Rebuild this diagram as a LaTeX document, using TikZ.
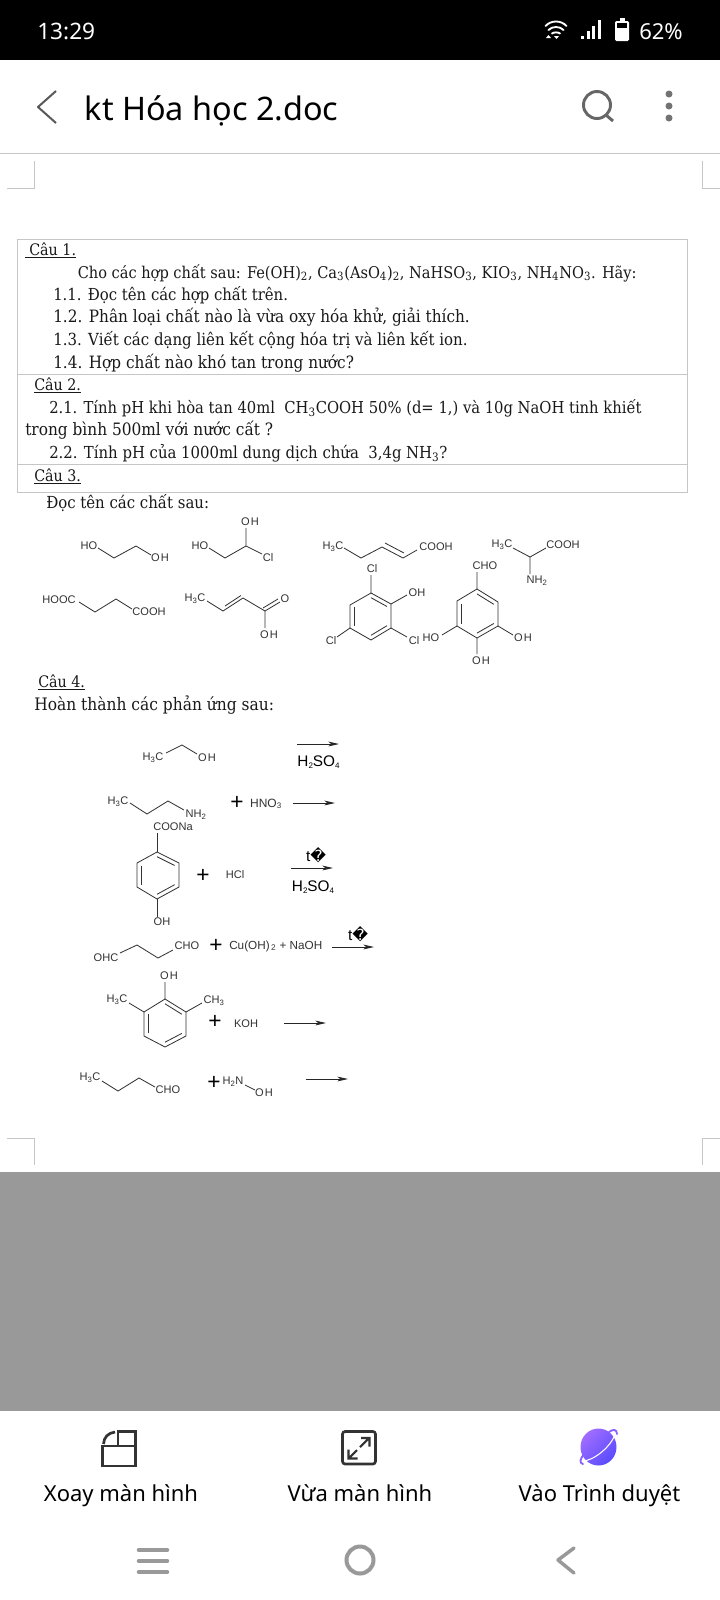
\documentclass[tikz,border=0pt]{standalone}
\usepackage{fontspec}
\usetikzlibrary{arrows.meta,calc}
\setmainfont{DejaVu Serif Condensed}
\newfontfamily\uifont{Noto Sans}
\newfontfamily\chemfont{Liberation Sans}
\newfontfamily\djv{DejaVu Sans}
\newcommand{\ssb}[1]{\textsubscript{#1}}
\newcommand{\oh}{O\kern0.8pt H}
\newcommand{\hso}{H\raisebox{-1.2pt}{\fontsize{6}{6}\selectfont 2}SO\raisebox{-1.2pt}{\fontsize{6}{6}\selectfont 4}}
\definecolor{rulegray}{HTML}{C6C6C6}
\definecolor{bondc}{HTML}{333333}
\definecolor{iconc}{HTML}{333333}
\definecolor{navc}{HTML}{999999}
\definecolor{panel}{HTML}{999999}
\definecolor{planetA}{HTML}{A06CFF}
\definecolor{planetB}{HTML}{5A4CFF}
\tikzset{
  x=0.75pt,y=-0.75pt,
  doc/.style={anchor=base west,inner sep=0pt,font=\fontsize{#1}{15}\selectfont,text=black!90},
  chem/.style={inner sep=0pt,font=\chemfont\fontsize{8.3}{9}\selectfont,text=bondc},
  reag/.style={inner sep=0pt,font=\chemfont\fontsize{11.5}{12}\selectfont,text=black},
  plussign/.style={inner sep=0pt,font=\chemfont\fontsize{17}{17}\selectfont,text=black},
  bond/.style={draw=bondc,line width=0.62pt},
  rxn/.style={draw=black!85,line width=0.62pt,-{Stealth[length=8pt,width=3.6pt,inset=2.2pt]}},
  uilabel/.style={inner sep=0pt,anchor=base,font=\uifont\fontsize{16.5}{20}\selectfont,text=black},
  corner/.style={draw=rulegray,line width=0.6pt},
  tablerule/.style={draw=rulegray,line width=0.75pt},
}
\newcommand{\hexa}[7]{% name, then six vertices clockwise from top
  \coordinate (#1a) at #2; \coordinate (#1b) at #3; \coordinate (#1c) at #4;
  \coordinate (#1d) at #5; \coordinate (#1e) at #6; \coordinate (#1f) at #7;
  \coordinate (#1o) at ($(#1a)!0.5!(#1d)$);
  \draw[bond,line join=round] (#1a)--(#1b)--(#1c)--(#1d)--(#1e)--(#1f)--cycle;
  \draw[bond] ($(#1a)!0.2!(#1o)$)--($(#1b)!0.2!(#1o)$);
  \draw[bond] ($(#1c)!0.2!(#1o)$)--($(#1d)!0.2!(#1o)$);
  \draw[bond] ($(#1e)!0.2!(#1o)$)--($(#1f)!0.2!(#1o)$);
}
\begin{document}
\begin{tikzpicture}
\useasboundingbox (0,0) rectangle (720,1600);
\fill[white] (0,0) rectangle (720,1600);
% status bar
\fill[black] (0,0) rectangle (720,60);
\node[inner sep=0pt,anchor=west,text=white,font=\uifont\fontsize{17}{20}\selectfont] (clock) at (37,31.5) {13:29};
\node[inner sep=0pt,anchor=east,text=white,font=\uifont\fontsize{16.5}{20}\selectfont] (pct) at (683,31.5) {62\%};
\draw[white,line width=1.4pt,line cap=round] (545.5,26) .. controls (551,20) and (561,20) .. (566.5,26);
\draw[white,line width=1.4pt,line cap=round] (548.5,30) .. controls (552,26) and (560,26) .. (563.5,30);
\draw[white,line width=1.4pt,line cap=round] (552,33.5) .. controls (554,32) and (558,32) .. (560,33.5);
\fill[white] (546,38) -- (551,38) -- (548.5,35) -- cycle;
\fill[white] (554,36) -- (559,36) -- (556.5,39) -- cycle;
\fill[white] (581,36) rectangle (584,39);
\fill[white] (587,31) rectangle (590,39);
\fill[white] (592,26) rectangle (595,39);
\fill[white] (598,20) rectangle (601,39);
\fill[white,rounded corners=1pt] (615,21) rectangle (629,41);
\fill[white] (619.5,18) rectangle (624.5,21);
\fill[black] (617,23) rectangle (627,28);
% title bar
\draw[black!65,line width=1.5pt,line join=round] (56,91) -- (38,107) -- (56,123);
\node[inner sep=0pt,anchor=base west,font=\uifont\fontsize{24.3}{28}\selectfont] (title) at (84.5,120) {kt Hóa học 2.doc};
\draw[black!60,line width=2.2pt] (597,105) circle (13.5);
\draw[black!60,line width=2.2pt] (606,115) -- (613,121);
\fill[black!55] (669,94) circle (3.5) (669,106) circle (3.5) (669,118) circle (3.5);
\draw[rulegray,line width=0.9pt] (0,153.5) -- (720,153.5);
% page corners
\draw[corner] (7,188) -- (34.5,188) -- (34.5,161);
\draw[corner] (720,188) -- (702.5,188) -- (702.5,161);
\draw[corner] (7,1138) -- (34.5,1138) -- (34.5,1165);
\draw[corner] (720,1138) -- (702.5,1138) -- (702.5,1165);
% table
\draw[tablerule] (17.5,239.5) rectangle (687.5,492);
\draw[tablerule] (17.5,374) -- (687.5,374);
\draw[tablerule] (17.5,464) -- (687.5,464);
% text
\node[doc=11.9] (c1) at (24.5,255) {\underline{\ Câu 1.}};
\node[doc=12.15] (c1i) at (77.5,278) {Cho các hợp chất sau: Fe(OH)\ssb{2}, Ca\ssb{3}(AsO\ssb{4})\ssb{2}, NaHSO\ssb{3}, KIO\ssb{3}, NH\ssb{4}NO\ssb{3}. Hãy:};
\node[doc=12.4] (q11) at (53,300) {1.1. Đọc tên các hợp chất trên.};
\node[doc=12.75] (q12) at (53,322.5) {1.2. Phân loại chất nào là vừa oxy hóa khử, giải thích.};
\node[doc=12.5] (q13) at (53,345) {1.3. Viết các dạng liên kết cộng hóa trị và liên kết ion.};
\node[doc=12.75] (q14) at (53,368) {1.4. Hợp chất nào khó tan trong nước?};
\node[doc=11.9] (c2) at (34,390) {\underline{Câu 2.}};
\node[doc=12.3] (q21) at (49,413) {2.1. Tính pH khi hòa tan 40ml\ \ CH\ssb{3}COOH 50\% (d= 1,) và 10g NaOH tinh khiết};
\node[doc=12.8] (q21b) at (25,435) {trong bình 500ml với nước cất ?};
\node[doc=12.4] (q22) at (49,458) {2.2. Tính pH của 1000ml dung dịch chứa\ \ 3,4g NH\ssb{3}?};
\node[doc=11.9] (c3) at (34,481) {\underline{Câu 3.}};
\node[doc=12.45] (doc3) at (46,508) {Đọc tên các chất sau:};
\node[doc=11.9] (c4) at (38,687) {\underline{Câu 4.}};
\node[doc=12.9] (doc4) at (34,710) {Hoàn thành các phản ứng sau:};
% ethylene glycol
\node[chem] (a1) at (89,546) {HO}; \node[chem] (a2) at (160,558) {\oh};
\draw[bond,line join=round] (98,548) -- (114,558) -- (136,546) -- (151,555);
% chloro diol
\node[chem] (b1) at (200,546) {HO}; \node[chem] (b2) at (250,522) {\oh}; \node[chem] (b3) at (268,558) {Cl};
\draw[bond,line join=round] (209,548) -- (225,558) -- (246,546) -- (246,528) (246,546) -- (262,554);
% pentenoic acid
\node[chem] (p1) at (333,547) {H\ssb{3}C}; \node[chem] (p2) at (436,547) {COOH};
\draw[bond,line join=round] (344,548) -- (361,558) -- (382,547) -- (403,558) -- (417,550);
\draw[bond] (385,543) -- (404,553);
% alanine
\node[chem] (l1) at (502,545) {H\ssb{3}C}; \node[chem] (l2) at (563,545) {COOH}; \node[chem] (l3) at (537,581) {NH\ssb{2}};
\draw[bond,line join=round] (513,548) -- (530,557) -- (546,548) (530,557) -- (530,574);
% succinic acid
\node[chem] (s1) at (59,600) {HOOC}; \node[chem] (s2) at (149,612) {COOH};
\draw[bond,line join=round] (79,602) -- (95,612) -- (116,599) -- (132,609);
% crotonic acid
\node[chem] (t1) at (195,599) {H\ssb{3}C}; \node[chem] (t2) at (285,599) {O}; \node[chem] (t3) at (269,635) {\oh};
\draw[bond,line join=round] (207,601) -- (223,611) -- (243,598) -- (265,611) -- (265,628);
\draw[bond] (225,606) -- (241,595.5);
\draw[bond] (265,611) -- (280,602) (263,608) -- (278,599);
% trichlorophenol
\hexa{r}{(371,593)}{(391,604)}{(391,628)}{(371,640)}{(350,628)}{(350,605)}
\node[chem] (r1) at (372,569) {Cl}; \node[chem] (r2) at (417,593) {OH}; \node[chem] (r3) at (414,641) {Cl}; \node[chem] (r4) at (331,641) {Cl};
\draw[bond] (ra) -- (371,575) (rb) -- (407,595) (rc) -- (407,637) (re) -- (337,637);
% gallaldehyde
\hexa{g}{(477,589)}{(498,602)}{(498,626)}{(477,638)}{(457,626)}{(457,601)}
\node[chem] (g1) at (485,566) {CHO}; \node[chem] (g2) at (431,638) {HO}; \node[chem] (g3) at (523,638) {\oh}; \node[chem] (g4) at (481,661) {\oh};
\draw[bond] (ga) -- (477,572) (ge) -- (442,635) (gc) -- (513,635) (gd) -- (477,654);
% reaction 1
\node[chem] (e1) at (153,758) {H\ssb{3}C}; \node[chem] (e2) at (207,758) {\oh};
\draw[bond,line join=round] (166,753) -- (182,745) -- (197,754);
\coordinate (ar1a) at (297,744); \coordinate (ar1b) at (339,744);
\draw[rxn] (ar1a) -- (ar1b);
\node[reag] (h1) at (318.5,762) {\hso};
% reaction 2
\node[chem] (m1) at (118,802) {H\ssb{3}C}; \node[chem] (m2) at (196,815) {NH\ssb{2}};
\draw[bond,line join=round] (130,803) -- (147,814) -- (168,801) -- (184,810);
\node[plussign] (pl2) at (237,803) {+};
\node[chem,font=\chemfont\fontsize{9}{9}\selectfont] (hn) at (266,804) {HNO\ssb{3}};
\coordinate (ar2a) at (293,803); \coordinate (ar2b) at (335,803);
\draw[rxn] (ar2a) -- (ar2b);
% reaction 3
\hexa{n}{(157,852)}{(179,863)}{(179,887)}{(157,899)}{(137,887)}{(137,863)}
\node[chem] (n1) at (173,827) {COONa}; \node[chem] (n2) at (162,922) {OH};
\draw[bond] (na) -- (157,833) (nd) -- (157,917);
\node[plussign] (pl3) at (203,876) {+};
\node[chem] (hcl) at (235,875) {HCl};
\node[reag] (t3a) at (316,855) {t{\djv\char"FFFD}};
\coordinate (ar3a) at (291,868); \coordinate (ar3b) at (333,868);
\draw[rxn] (ar3a) -- (ar3b);
\node[reag] (h3) at (313,887) {\hso};
% reaction 4
\node[chem] (o1) at (106,958) {OHC}; \node[chem] (o2) at (187,946) {CHO};
\draw[bond,line join=round] (120,953) -- (137,945) -- (158,958) -- (173,950);
\node[plussign] (pl4) at (216,946) {+};
\node[chem,anchor=west,font=\chemfont\fontsize{8.8}{9}\selectfont] (cu) at (229,946) {Cu(OH)\ssb{\,2} + NaOH};
\node[reag] (t4a) at (358,934) {t{\djv\char"FFFD}};
\coordinate (ar4a) at (332,947); \coordinate (ar4b) at (374,947);
\draw[rxn] (ar4a) -- (ar4b);
% reaction 5
\hexa{x}{(165,999)}{(186,1012)}{(186,1036)}{(165,1047)}{(144,1036)}{(144,1012)}
\node[chem] (x1) at (169,976) {\oh}; \node[chem] (x2) at (117,1000) {H\ssb{3}C}; \node[chem] (x3) at (214,1001) {CH\ssb{3}};
\draw[bond] (xa) -- (165,982) (xf) -- (129,1003) (xb) -- (202,1003);
\node[plussign] (pl5) at (215,1022) {+};
\node[chem] (koh) at (246,1024) {KOH};
\coordinate (ar5a) at (284,1023); \coordinate (ar5b) at (326,1023);
\draw[rxn] (ar5a) -- (ar5b);
% reaction 6
\node[chem] (y1) at (90,1078) {H\ssb{3}C}; \node[chem] (y2) at (168,1090) {CHO};
\draw[bond,line join=round] (102,1081) -- (118,1091) -- (139,1078) -- (155,1087);
\node[plussign] (pl6) at (214,1083) {+};
\node[chem] (y3) at (233,1082) {H\ssb{2}N}; \node[chem] (y4) at (264,1093) {\oh};
\draw[bond] (245,1085) -- (255,1090);
\coordinate (ar6a) at (306,1079); \coordinate (ar6b) at (348,1079);
\draw[rxn] (ar6a) -- (ar6b);
% gray panel
\fill[panel] (0,1172) rectangle (720,1411);
% bottom toolbar icons
\draw[iconc,line width=2pt,line join=miter] (102.5,1446) rectangle (135.5,1466);
\draw[iconc,line width=2pt] (118,1446) -- (118,1431.5) -- (135.5,1431.5) -- (135.5,1446);
\draw[iconc,line width=2pt] (103.5,1444) .. controls (104,1437) and (108,1433) .. (115,1432);
\draw[iconc,line width=2pt,rounded corners=2pt] (342.5,1431.5) rectangle (375.5,1464);
\draw[iconc,line width=1.6pt] (369,1438) -- (360,1447) (361,1438) -- (369.5,1438) -- (369.5,1446.5);
\draw[iconc,line width=1.6pt] (348.5,1458.5) -- (357,1450) (348.5,1449.5) -- (348.5,1458.5) -- (357.5,1458.5);
\draw[planetA!70!planetB,line width=1.4pt,line cap=round] (584,1454) .. controls (580,1459) and (579,1463) .. (583,1464) (609,1432) .. controls (613,1429) and (617,1429) .. (617,1434);
\shade[left color=planetA,right color=planetB,shading angle=45] (598.5,1447) ellipse (18 and 18.5);
\draw[white,line width=0.8pt] (583,1461) .. controls (592,1461) and (611,1448) .. (615.5,1433);
\node[uilabel] (u1) at (121,1501) {Xoay màn hình};
\node[uilabel] (u2) at (360,1501) {Vừa màn hình};
\node[uilabel] (u3) at (599.5,1501) {Vào Trình duyệt};
% navigation bar
\draw[navc,line width=2.6pt,line cap=round] (138.5,1550) -- (167.5,1550) (138.5,1561) -- (167.5,1561) (138.5,1572) -- (167.5,1572);
\draw[navc,line width=3pt] (360,1560) circle (13.5);
\draw[navc,line width=2.6pt,line cap=round,line join=round] (574,1548) -- (558,1560) -- (574,1573);
\end{tikzpicture}
\end{document}
